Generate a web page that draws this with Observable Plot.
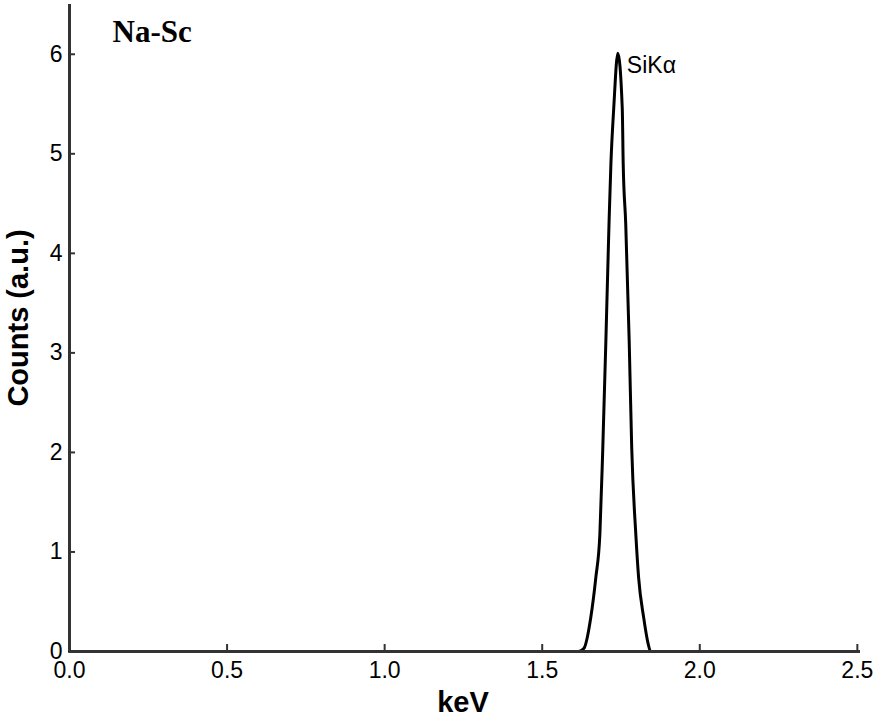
<!DOCTYPE html>
<html>
<head>
<meta charset="utf-8">
<script src="https://cdn.jsdelivr.net/npm/d3@7"></script>
<script src="https://cdn.jsdelivr.net/npm/@observablehq/plot@0.6"></script>
<style>
  html, body { margin: 0; padding: 0; background: #fff; }
  #chart svg { display: block; }
</style>
</head>
<body>
<div id="chart"></div>
<script>
const xTicks = [0, 0.5, 1.0, 1.5, 2.0, 2.5];
const yTicks = [0, 1, 2, 3, 4, 5, 6];
const energy = [0, 1.55, 1.615, 1.632, 1.654, 1.670, 1.683, 1.692, 1.702, 1.712, 1.718, 1.727, 1.740, 1.754, 1.757, 1.765, 1.776, 1.784, 1.797, 1.806, 1.822, 1.836, 1.844, 1.90, 2.5];
const counts = [0, 0, 0, 0.03, 0.34, 0.74, 1.18, 2.02, 3.12, 4.30, 4.90, 5.46, 6.01, 5.46, 4.90, 4.30, 3.12, 2.05, 1.18, 0.74, 0.34, 0.08, 0, 0, 0];
const peakLabel = "SiKα";
const title = "Na-Sc";
const xLabel = "keV";
const yLabel = "Counts (a.u.)";

const data = energy.map((e, i) => ({e, c: counts[i]}));
const peak = data[d3.maxIndex(data, d => d.c)];
const axisColor = "#333";

const chart = Plot.plot({
  width: 887,
  height: 719,
  marginLeft: 69,
  marginRight: 27,
  marginTop: 4,
  marginBottom: 68,
  style: {fontFamily: "'Liberation Sans', Arial, sans-serif", background: "#fff", color: "#000"},
  x: {domain: [0, 2.51]},
  y: {domain: [0, 6.5]},
  marks: [
    // tick labels
    Plot.axisX({ticks: xTicks, tickSize: 0, tickPadding: 10, tickFormat: d3.format(".1f"), fontSize: 23, label: null, fill: "#000"}),
    Plot.axisY({ticks: yTicks, tickSize: 0, tickPadding: 7, tickFormat: d3.format("d"), fontSize: 23, label: null, fill: "#000"}),
    // inward ticks
    Plot.ruleX(xTicks, {x: d => d, y1: 0, y2: 0, insetBottom: 7, stroke: axisColor, strokeWidth: 2}),
    Plot.ruleY(yTicks, {y: d => d, x1: 0, x2: 0, insetRight: -6, stroke: axisColor, strokeWidth: 2}),
    // spectrum
    Plot.line(data, {x: "e", y: "c", stroke: "#000", strokeWidth: 3, curve: "monotone-x"}),
    // axis lines
    Plot.ruleY([0], {stroke: axisColor, strokeWidth: 3}),
    Plot.ruleX([0], {stroke: axisColor, strokeWidth: 3}),
    // labels
    Plot.text([peak], {x: "e", y: "c", text: () => peakLabel, textAnchor: "start", lineAnchor: "bottom", dx: 9, dy: 20, fontSize: 23, fill: "#000"}),
    Plot.text([title], {frameAnchor: "top-left", text: d => d, textAnchor: "start", lineAnchor: "bottom", dx: 43, dy: 37, fontSize: 31, fontWeight: "bold", fontFamily: "'Liberation Serif', 'Times New Roman', serif", fill: "#000"}),
    Plot.text([xLabel], {frameAnchor: "bottom", text: d => d, textAnchor: "middle", lineAnchor: "bottom", dy: 60, dx: -2, fontSize: 29, fontWeight: "bold", fill: "#000"}),
    Plot.text([yLabel], {frameAnchor: "left", text: d => d, rotate: -90, textAnchor: "middle", lineAnchor: "middle", dx: -51, dy: -10, fontSize: 29, fontWeight: "bold", fill: "#000"})
  ]
});
document.getElementById("chart").appendChild(chart);
</script>
</body>
</html>
